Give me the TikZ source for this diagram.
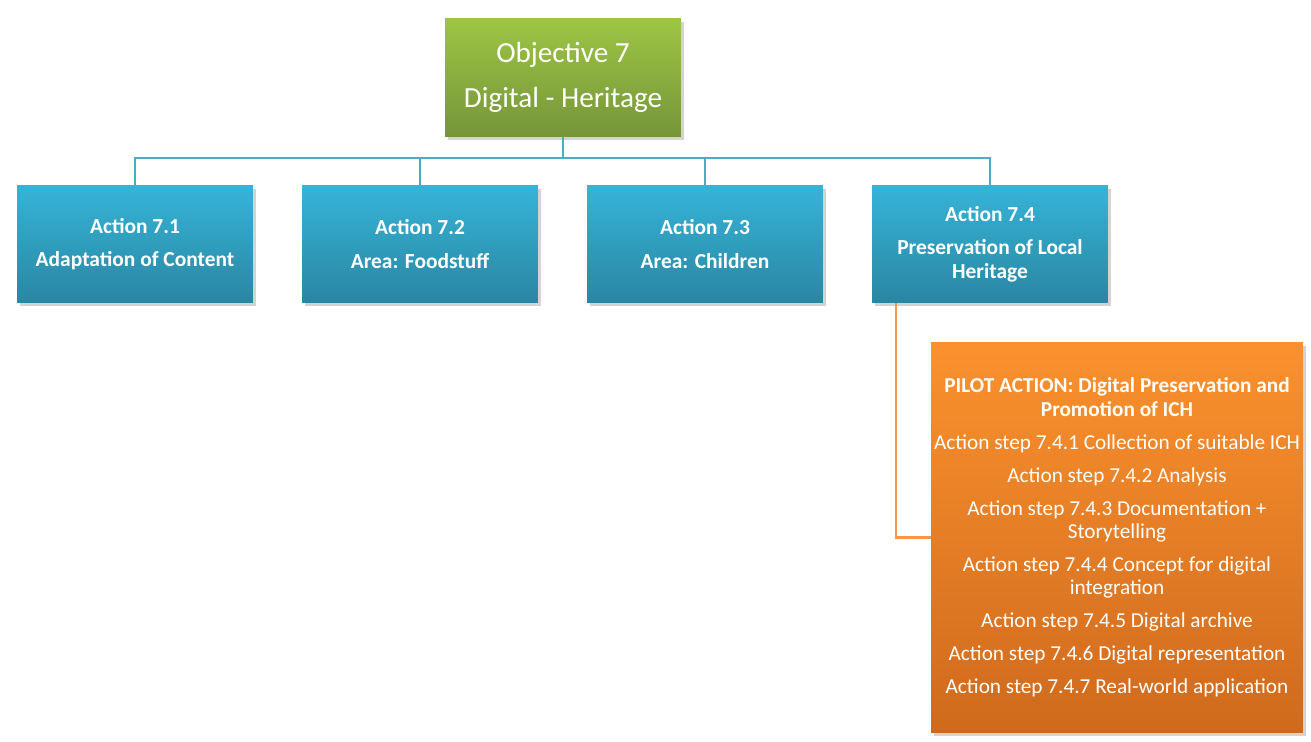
\documentclass[tikz,border=0pt]{standalone}
\usepackage{fontspec}
\setmainfont{Carlito}
\usetikzlibrary{shadows}
\definecolor{objtop}{HTML}{9DC544}
\definecolor{objbot}{HTML}{76953A}
\definecolor{acttop}{HTML}{36B4D8}
\definecolor{actbot}{HTML}{2A86A2}
\definecolor{piltop}{HTML}{FB912E}
\definecolor{pilbot}{HTML}{CF6A1D}
\definecolor{busblue}{HTML}{4BACC6}
\definecolor{busorange}{HTML}{F79646}
\tikzset{
    box/.style={text=white, align=center, inner sep=0pt,
        drop shadow={shadow xshift=1.5pt, shadow yshift=-2pt, opacity=0.35}},
    objbox/.style={box, top color=objtop, bottom color=objbot,
        minimum width=4.72cm, minimum height=2.36cm, font=\fontsize{16.6}{25.6}\selectfont},
    actbox/.style={box, top color=acttop, bottom color=actbot,
        minimum width=4.72cm, minimum height=2.36cm, font=\bfseries\fontsize{12.2}{13.6}\selectfont},
    pilbox/.style={box, top color=piltop, bottom color=pilbot,
        minimum width=7.44cm, minimum height=7.82cm, font=\fontsize{12.1}{13.2}\selectfont},
    bline/.style={draw=busblue, line width=1.2pt},
    oline/.style={draw=busorange, line width=1.2pt}
}
\begin{document}
\begin{tikzpicture}[x=0.02cm,y=-0.02cm]
    \useasboundingbox (0,0) rectangle (1311,742);
    \node[objbox] (obj) at (563,77.5) {Objective 7\\Digital - Heritage};
    \node[actbox] (a1) at (135,244) {Action 7.1\\[5.4pt]Adaptation of Content};
    \node[actbox] (a2) at (420,244) {Action 7.2\\[5.4pt]Area: Foodstuff};
    \node[actbox] (a3) at (705,244) {Action 7.3\\[5.4pt]Area: Children};
    \node[actbox] (a4) at (990,244) {Action 7.4\\[5.4pt]Preservation of Local\\Heritage};
    \node[pilbox] (pilot) at (1117,537.5) {\textbf{PILOT ACTION: Digital Preservation and}\\
        \textbf{Promotion of ICH}\\[5.6pt]
        Action step 7.4.1 Collection of suitable ICH\\[5.6pt]
        Action step 7.4.2 Analysis\\[5.6pt]
        Action step 7.4.3 Documentation +\\Storytelling\\[5.6pt]
        Action step 7.4.4 Concept for digital\\integration\\[5.6pt]
        Action step 7.4.5 Digital archive\\[5.6pt]
        Action step 7.4.6 Digital representation\\[5.6pt]
        Action step 7.4.7 Real-world application};
    \coordinate (bus) at (563,158);
    \foreach \a in {a1,a2,a3,a4}
        \draw[bline] (obj.south) -- (obj.south |- bus) -| (\a.north);
    \draw[oline] ([xshift=0.48cm]a4.south west) |- (pilot.west);
\end{tikzpicture}
\end{document}
